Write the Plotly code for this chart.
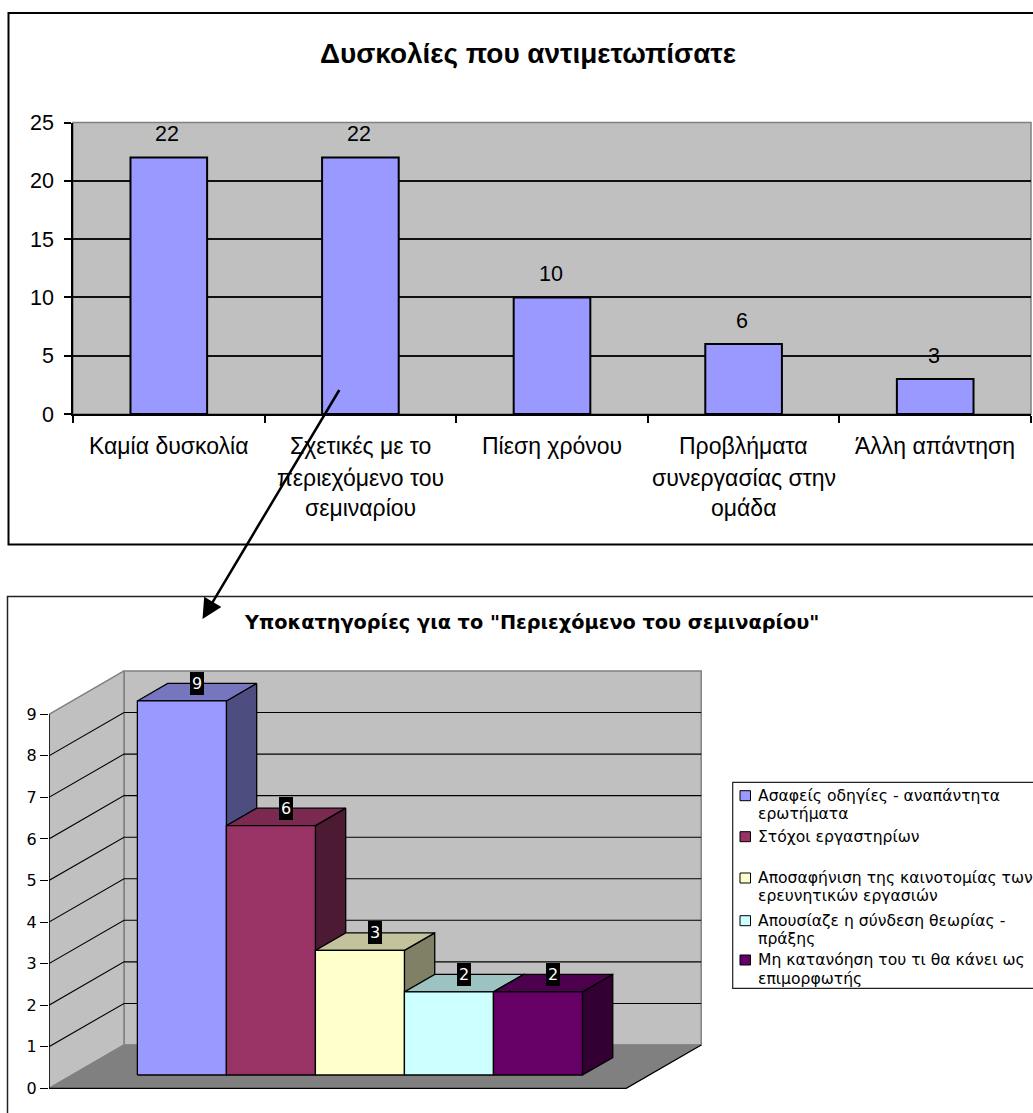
import plotly.graph_objects as go

W, H = 1033, 1113

# Upper chart data
difficulty_lines = [
    ["Καμία δυσκολία"],
    ["Σχετικές με το", "περιεχόμενο του", "σεμιναρίου"],
    ["Πίεση χρόνου"],
    ["Προβλήματα", "συνεργασίας στην", "ομάδα"],
    ["Άλλη απάντηση"],
]
difficulty_values = [22, 22, 10, 6, 3]
difficulty_ticks = [0, 5, 10, 15, 20, 25]

# Lower chart data
content_names = [
    ["Ασαφείς οδηγίες - αναπάντητα", "ερωτήματα"],
    ["Στόχοι εργαστηρίων"],
    ["Αποσαφήνιση της καινοτομίας των", "ερευνητικών εργασιών"],
    ["Απουσίαζε η σύνδεση θεωρίας -", "πράξης"],
    ["Μη κατανόηση του τι θα κάνει ως", "επιμορφωτής"],
]
content_values = [9, 6, 3, 2, 2]
content_ticks = list(range(10))
content_front = ["#9999FF", "#993366", "#FFFFCC", "#CCFFFF", "#660066"]
content_top = ["#7676BE", "#7A2950", "#C2C29C", "#9CC2C2", "#4D004D"]
content_side = ["#4D4D80", "#4D1A33", "#808066", "#668080", "#330033"]

TOP_FONT = "Liberation Sans"
LOW_FONT = "DejaVu Sans"


def fx(px):
    return px / W


def fy(py):
    return 1 - py / H


categories = [" ".join(lines) for lines in difficulty_lines]

fig = go.Figure()

# Upper chart: plain column chart on the first axes
fig.add_trace(go.Bar(
    x=categories, y=difficulty_values, width=0.4,
    marker=dict(color="#9999FF", line=dict(color="#000000", width=2)),
    hoverinfo="skip", xaxis="x", yaxis="y",
))

# Lower chart: oblique projection, one depth unit moves right and up
DEPTH_X = 75 / 89
DEPTH_Y = 43.3 / 41.55
BAR_FRONT, BAR_BACK = 0.307, 0.711
FLOOR_L, FLOOR_R = -0.734, 5.75
AXIS_TOP = content_ticks[-1]


def project(x, v, d):
    return x + d * DEPTH_X, v + d * DEPTH_Y


def poly(points, fill=None, line="#000000", width=1.3):
    xs, ys = zip(*[project(*p) for p in points])
    fig.add_trace(go.Scatter(
        x=list(xs), y=list(ys), mode="lines",
        fill="toself" if fill else None, fillcolor=fill,
        line=dict(color=line, width=width),
        hoverinfo="skip", xaxis="x2", yaxis="y2",
    ))


GRAY = "#808080"
# back wall, side wall and floor
poly([(FLOOR_L, 0, 1), (FLOOR_R, 0, 1), (FLOOR_R, AXIS_TOP, 1), (FLOOR_L, AXIS_TOP, 1), (FLOOR_L, 0, 1)],
     "#C0C0C0", GRAY, 1.5)
poly([(FLOOR_L, 0, 0), (FLOOR_L, 0, 1), (FLOOR_L, AXIS_TOP, 1), (FLOOR_L, AXIS_TOP, 0), (FLOOR_L, 0, 0)],
     "#C0C0C0", GRAY, 1.5)
poly([(FLOOR_L, 0, 0), (FLOOR_R, 0, 0), (FLOOR_R, 0, 1), (FLOOR_L, 0, 1), (FLOOR_L, 0, 0)],
     "#808080", "#808080", 1)

# grid lines running along the side wall and across the back wall
for tick in content_ticks[1:-1]:
    poly([(FLOOR_L, tick, 0), (FLOOR_L, tick, 1), (FLOOR_R, tick, 1)], None, "#000000", 1.1)

# floor and value-axis outlines
poly([(FLOOR_L, 0, 0), (FLOOR_R, 0, 0), (FLOOR_R, 0, 1)], None, "#000000", 1.2)
poly([(FLOOR_L, 0, 0), (FLOOR_L, AXIS_TOP, 0)], None, "#000000", 1.5)

# boxes, painted from left to right so each one overlaps its neighbour
for i, value in enumerate(content_values):
    l, r = i, i + 1
    poly([(r, 0, BAR_FRONT), (r, 0, BAR_BACK), (r, value, BAR_BACK), (r, value, BAR_FRONT), (r, 0, BAR_FRONT)],
         content_side[i])
    poly([(l, value, BAR_FRONT), (r, value, BAR_FRONT), (r, value, BAR_BACK), (l, value, BAR_BACK), (l, value, BAR_FRONT)],
         content_top[i])
    poly([(l, 0, BAR_FRONT), (r, 0, BAR_FRONT), (r, value, BAR_FRONT), (l, value, BAR_FRONT), (l, 0, BAR_FRONT)],
         content_front[i])

annotations = []

# category labels of the upper chart, one annotation per line
LINE_Y = [446, 478, 508]
for cat, lines in zip(categories, difficulty_lines):
    for row, text in enumerate(lines):
        annotations.append(dict(
            x=cat, xref="x", y=fy(LINE_Y[row]), yref="paper", text=text, showarrow=False,
            xanchor="center", yanchor="middle", font=dict(family=TOP_FONT, size=23, color="#000000"),
        ))

# value labels of the upper chart
for cat, value in zip(categories, difficulty_values):
    annotations.append(dict(
        x=cat, xref="x", y=value, yref="y", text=str(value), showarrow=False,
        xshift=-1.5, yshift=23.5,
        xanchor="center", yanchor="middle", font=dict(family=TOP_FONT, size=21.5, color="#000000"),
    ))

# value labels of the lower chart, white on black at the rear edge of each box
for i, value in enumerate(content_values):
    lx, _ = project(i + 0.5, value, (BAR_FRONT + BAR_BACK) / 2)
    _, back_v = project(0, value, BAR_BACK)
    annotations.append(dict(
        x=lx, xref="x2", y=back_v, yref="y2", text=str(value), showarrow=False,
        xanchor="center", yanchor="middle", bgcolor="#000000", borderpad=0, borderwidth=0,
        width=14, height=23, align="center",
        font=dict(family=LOW_FONT, size=16, color="#FFFFFF"),
    ))

# titles
annotations.append(dict(
    x=fx(528), xref="paper", y=fy(53), yref="paper", text="<b>Δυσκολίες που αντιμετωπίσατε</b>",
    showarrow=False, xanchor="center", yanchor="middle",
    font=dict(family=TOP_FONT, size=27.9, color="#000000"),
))
annotations.append(dict(
    x=fx(531.5), xref="paper", y=fy(622), yref="paper",
    text="<b>Υποκατηγορίες για το \"Περιεχόμενο του σεμιναρίου\"</b>",
    showarrow=False, xanchor="center", yanchor="middle",
    font=dict(family=LOW_FONT, size=19.3, color="#000000"),
))

# legend of the lower chart
LEGEND_Y = [[795.7, 814], [836.7], [878, 896], [920.7, 939], [960, 979]]
shapes = []
for i, lines in enumerate(content_names):
    first_y = LEGEND_Y[i][0]
    shapes.append(dict(
        type="rect", xref="paper", yref="paper", x0=fx(740), x1=fx(750.5),
        y0=fy(first_y + 5), y1=fy(first_y - 5),
        fillcolor=content_front[i], line=dict(color="#000000", width=1),
    ))
    for row, text in enumerate(lines):
        annotations.append(dict(
            x=fx(756), xref="paper", y=fy(LEGEND_Y[i][row]), yref="paper", text=text,
            showarrow=False, xanchor="left", yanchor="middle",
            font=dict(family=LOW_FONT, size=15.6, color="#000000"),
        ))

# arrow linking the second column to the breakdown below it
annotations.append(dict(
    x=fx(202.5), xref="paper", y=fy(619), yref="paper", text=" ",
    ax=138, ay=-231, axref="pixel", ayref="pixel", showarrow=True,
    arrowhead=2, arrowsize=1.6, arrowwidth=2.5, arrowcolor="#000000", standoff=0,
    font=dict(size=1),
))


def frame(x0, y0, x1, y1, width, color="#000000", fill=None):
    return dict(
        type="rect", xref="paper", yref="paper", layer="below",
        x0=fx(x0), x1=fx(x1), y0=fy(y1), y1=fy(y0),
        line=dict(color=color, width=width), fillcolor=fill,
    )


shapes = [
    frame(8.5, 13, 1060, 544.5, 2),
    frame(7.5, 596.5, 1060, 1160, 1.5, "#222222"),
    frame(73, 122.5, 1031, 414, 1.5, GRAY, "#C0C0C0"),
    frame(732.7, 782.3, 1060, 988.3, 1.2, "#222222"),
] + shapes

fig.update_layout(
    width=W, height=H, autosize=False,
    margin=dict(l=0, r=0, t=0, b=0, autoexpand=False),
    paper_bgcolor="#FFFFFF", plot_bgcolor="rgba(0,0,0,0)",
    showlegend=False, bargap=0.6,
    shapes=shapes, annotations=annotations,
    xaxis=dict(
        domain=[fx(73), fx(1031)], anchor="y", type="category",
        categoryorder="array", categoryarray=categories, tickson="boundaries",
        showticklabels=False, ticks="outside", ticklen=7, tickwidth=1.5, tickcolor="#000000",
        showline=True, linecolor="#000000", linewidth=2, showgrid=False, zeroline=False,
    ),
    yaxis=dict(
        domain=[fy(414), fy(122.5)], anchor="x", range=[0, 25], tickvals=difficulty_ticks,
        ticks="outside", ticklen=7, tickwidth=1.5, tickcolor="#000000",
        showline=True, linecolor="#000000", linewidth=1.5,
        showgrid=True, gridcolor="#111111", gridwidth=1.5, zeroline=False,
        ticklabelstandoff=6,
        tickfont=dict(family=TOP_FONT, size=21.5, color="#000000"),
    ),
    xaxis2=dict(
        domain=[fx(49), 1], anchor="y2", range=[-0.734, 10.32],
        visible=False, showgrid=False, zeroline=False,
    ),
    yaxis2=dict(
        domain=[0, fy(590)], anchor="x2", range=[-0.594, 11.99], tickvals=content_ticks,
        ticks="outside", ticklen=8, tickwidth=1, tickcolor="#000000",
        showline=False, showgrid=False, zeroline=False,
        tickfont=dict(family=LOW_FONT, size=16, color="#000000"),
    ),
)

fig.write_html("out.html", config={"displayModeBar": False})
